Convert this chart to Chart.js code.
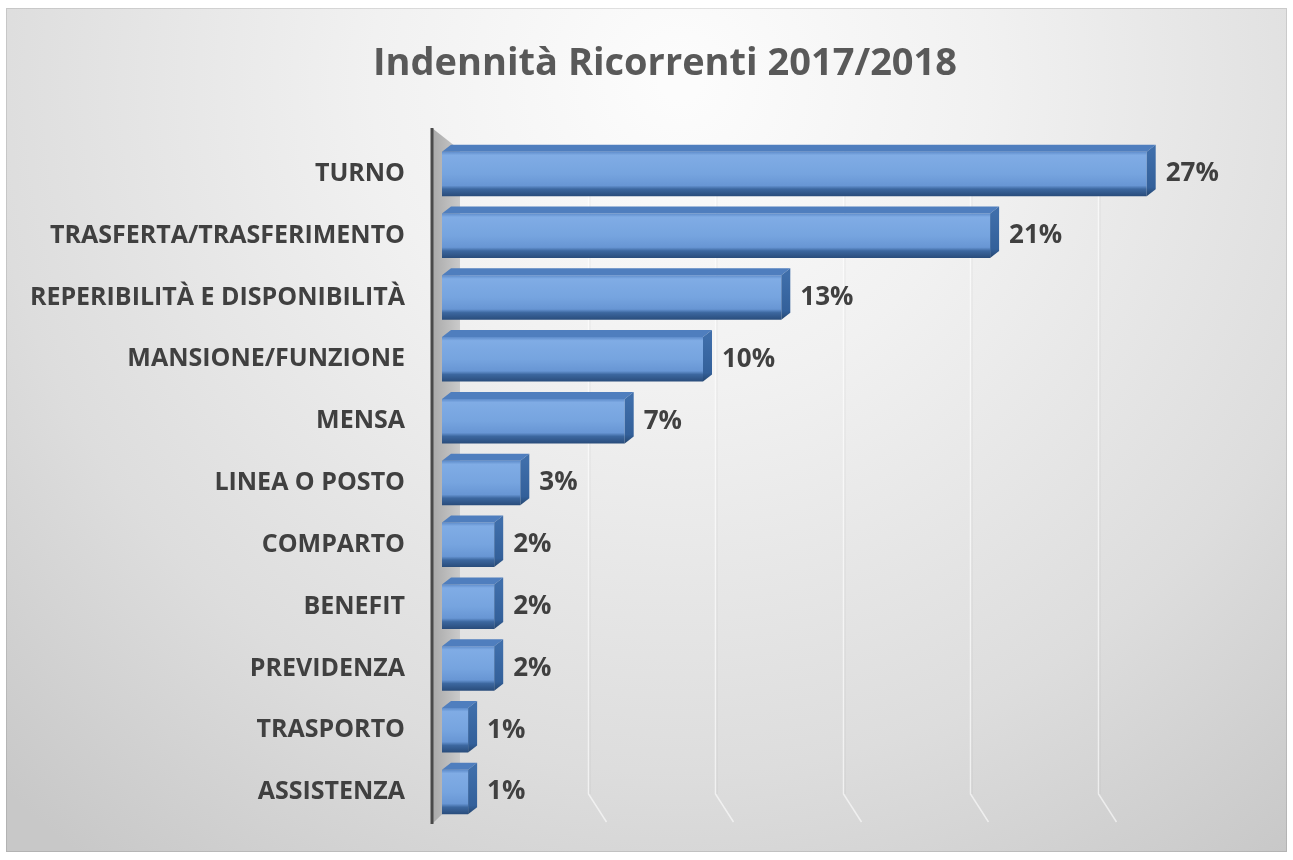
<!DOCTYPE html>
<html>
<head>
<meta charset="utf-8">
<script src="https://cdn.jsdelivr.net/npm/chart.js@4.4.1/dist/chart.umd.min.js"></script>
<style>
  html, body { margin: 0; padding: 0; background: #ffffff; }
  #wrap { width: 1293px; height: 860px; }
</style>
</head>
<body>
<div id="wrap"><canvas id="indennita" width="1293" height="860"></canvas></div>
<script>
const categories = [
  'TURNO',
  'TRASFERTA/TRASFERIMENTO',
  'REPERIBILITÀ E DISPONIBILITÀ',
  'MANSIONE/FUNZIONE',
  'MENSA',
  'LINEA O POSTO',
  'COMPARTO',
  'BENEFIT',
  'PREVIDENZA',
  'TRASPORTO',
  'ASSISTENZA'
];
const shares = [27, 21, 13, 10, 7, 3, 2, 2, 2, 1, 1];
const gridTicks = [5, 10, 15, 20, 25];
const xMax = 30;
const chartTitle = 'Indennità Ricorrenti 2017/2018';

const BAR_PCT = 0.72;
const DEPTH_X = 9;
const DEPTH_Y = 7;
const LABEL_FONT = '"Open Sans", sans-serif';

function barGradient(c) {
  const chart = c.chart;
  const yScale = chart.scales.y;
  if (!chart.chartArea || !yScale) return '#6d9cd8';
  const yc = yScale.getPixelForValue(c.dataIndex);
  const h = yScale.height / categories.length * BAR_PCT;
  const g = chart.ctx.createLinearGradient(0, yc - h / 2, 0, yc + h / 2);
  g.addColorStop(0, '#5e8ccb');
  g.addColorStop(0.08, '#80ace5');
  g.addColorStop(0.5, '#76a4df');
  g.addColorStop(0.76, '#6896d4');
  g.addColorStop(0.84, '#3c679f');
  g.addColorStop(1, '#294c7b');
  return g;
}

// grey panel with the soft radial light, and the title
const panelBackground = {
  id: 'panelBackground',
  beforeDraw(chart) {
    const ctx = chart.ctx;
    ctx.save();
    ctx.fillStyle = '#ffffff';
    ctx.fillRect(0, 0, chart.width, chart.height);
    const x0 = 6, y0 = 8, w = chart.width - 12, h = chart.height - 16;
    const g = ctx.createRadialGradient(680, 80, 20, 680, 80, 980);
    g.addColorStop(0, '#fcfcfc');
    g.addColorStop(0.3, '#f1f1f1');
    g.addColorStop(0.7, '#dddddd');
    g.addColorStop(1, '#c8c8c8');
    ctx.fillStyle = g;
    ctx.fillRect(x0, y0, w, h);
    ctx.strokeStyle = 'rgba(0,0,0,0.1)';
    ctx.lineWidth = 1;
    ctx.strokeRect(x0 + 0.5, y0 + 0.5, w - 1, h - 1);

    ctx.fillStyle = '#595959';
    ctx.font = 'bold 38px ' + LABEL_FONT;
    ctx.textAlign = 'center';
    ctx.textBaseline = 'middle';
    ctx.fillText(chartTitle, 665, 64);
    ctx.restore();
  }
};

// side wall, back-wall gridlines and the vertical axis
const backWall = {
  id: 'backWall',
  beforeDatasetsDraw(chart) {
    const { ctx, chartArea: a } = chart;
    const xs = chart.scales.x;
    const axisX = a.left - 10;
    const top = a.top - 15;
    const bottom = a.bottom + 1;
    ctx.save();

    const wg = ctx.createLinearGradient(axisX, 0, axisX + 28, 0);
    wg.addColorStop(0, '#a9a9a9');
    wg.addColorStop(1, '#cacaca');
    ctx.fillStyle = wg;
    ctx.beginPath();
    ctx.moveTo(axisX, top);
    ctx.lineTo(axisX + 28, top + 22);
    ctx.lineTo(axisX + 28, bottom - 27);
    ctx.lineTo(axisX, bottom);
    ctx.closePath();
    ctx.fill();

    // back wall sits deeper at the left, so the offset shrinks along the axis
    gridTicks.forEach(v => {
      const gx = Math.round(xs.getPixelForValue(v) + 18 * (1 - v / xMax)) + 0.5;
      ctx.beginPath();
      ctx.moveTo(gx, top + 20);
      ctx.lineTo(gx, bottom - 30);
      ctx.lineTo(gx + 18, bottom - 2);
      ctx.strokeStyle = 'rgba(255,255,255,0.6)';
      ctx.lineWidth = 1.5;
      ctx.stroke();
      ctx.beginPath();
      ctx.moveTo(gx + 1.5, top + 20);
      ctx.lineTo(gx + 1.5, bottom - 30);
      ctx.strokeStyle = 'rgba(0,0,0,0.05)';
      ctx.lineWidth = 1;
      ctx.stroke();
    });

    ctx.strokeStyle = '#4a4a4a';
    ctx.lineWidth = 3;
    ctx.beginPath();
    ctx.moveTo(axisX, top);
    ctx.lineTo(axisX, bottom);
    ctx.stroke();
    ctx.restore();
  }
};

// top and end faces of each bar, plus the percentage labels
const barFaces = {
  id: 'barFaces',
  afterDatasetsDraw(chart) {
    const ctx = chart.ctx;
    const meta = chart.getDatasetMeta(0);
    ctx.save();
    meta.data.forEach((bar, i) => {
      const p = bar.getProps(['x', 'y', 'base', 'height'], true);
      const top = p.y - p.height / 2;
      const bottom = p.y + p.height / 2;

      ctx.fillStyle = '#4f7ebe';
      ctx.beginPath();
      ctx.moveTo(p.base, top);
      ctx.lineTo(p.base + DEPTH_X, top - DEPTH_Y);
      ctx.lineTo(p.x + DEPTH_X, top - DEPTH_Y);
      ctx.lineTo(p.x, top);
      ctx.closePath();
      ctx.fill();

      const sg = ctx.createLinearGradient(0, top, 0, bottom);
      sg.addColorStop(0, '#3f6eaa');
      sg.addColorStop(0.8, '#33609a');
      sg.addColorStop(1, '#25466f');
      ctx.fillStyle = sg;
      ctx.beginPath();
      ctx.moveTo(p.x, top);
      ctx.lineTo(p.x + DEPTH_X, top - DEPTH_Y);
      ctx.lineTo(p.x + DEPTH_X, bottom - DEPTH_Y);
      ctx.lineTo(p.x, bottom);
      ctx.closePath();
      ctx.fill();

      ctx.fillStyle = '#404040';
      ctx.font = 'bold 26px ' + LABEL_FONT;
      ctx.textAlign = 'left';
      ctx.textBaseline = 'middle';
      ctx.fillText(shares[i] + '%', p.x + DEPTH_X + 10, p.y);
    });
    ctx.restore();
  }
};

new Chart(document.getElementById('indennita'), {
  type: 'bar',
  data: {
    labels: categories,
    datasets: [{
      data: shares,
      backgroundColor: barGradient,
      borderWidth: 0,
      barPercentage: BAR_PCT,
      categoryPercentage: 1
    }]
  },
  options: {
    indexAxis: 'y',
    responsive: false,
    animation: false,
    devicePixelRatio: 1,
    layout: { padding: { left: 0, right: 68, top: 143, bottom: 37 } },
    plugins: {
      legend: { display: false },
      tooltip: { enabled: false },
      title: { display: false }
    },
    scales: {
      x: {
        display: false,
        min: 0,
        max: xMax
      },
      y: {
        grid: { display: false, drawTicks: false },
        border: { display: false },
        ticks: {
          color: '#404040',
          padding: 37,
          font: { family: LABEL_FONT, size: 25, weight: 'bold' }
        },
        afterFit(scale) {
          // fixed label column; the tick padding should not eat vertical room
          scale.width = 442;
          scale.paddingTop = 0;
          scale.paddingBottom = 0;
        }
      }
    }
  },
  plugins: [panelBackground, backWall, barFaces]
});
</script>
</body>
</html>
